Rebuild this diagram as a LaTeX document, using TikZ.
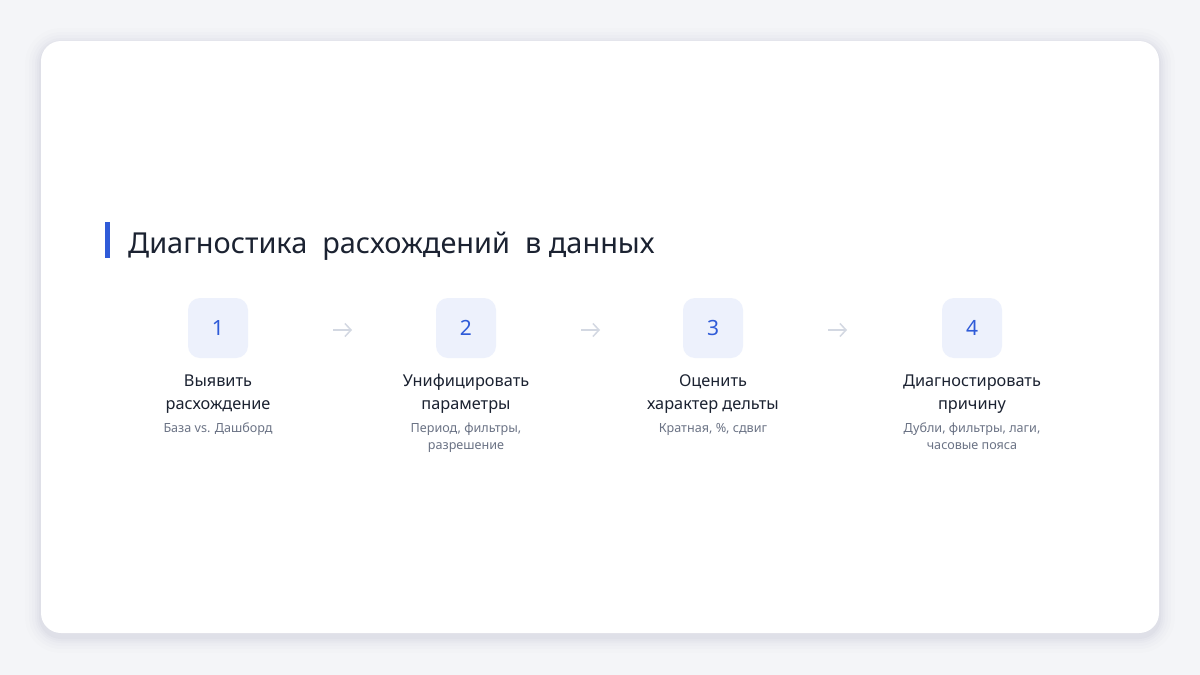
\documentclass[tikz,border=0pt]{standalone}
\usepackage{fontspec}
\setmainfont{Noto Sans}
\usetikzlibrary{arrows.meta}
\definecolor{pagebg}{HTML}{F4F5F8}
\definecolor{accent}{HTML}{2F5BD8}
\definecolor{boxfill}{HTML}{EDF1FC}
\definecolor{titlecol}{HTML}{1B2231}
\definecolor{subcol}{HTML}{6B7385}
\definecolor{arrowcol}{HTML}{D3D8E2}
\tikzset{
  stepbox/.style={fill=boxfill, rounded corners=12pt, minimum width=60pt, minimum height=60pt, inner sep=0pt, text=accent, font=\fontsize{21}{21}\selectfont},
  steplabel/.style={align=center, inner sep=0pt, text=titlecol, font=\fontsize{16.3}{22.5}\selectfont, anchor=base},
  stepsub/.style={align=center, inner sep=0pt, text=subcol, font=\fontsize{12.6}{17}\selectfont, anchor=base},
  flow/.style={draw=arrowcol, line width=1.5pt, -{Straight Barb[length=6pt,width=13pt,line width=1.5pt]}}
}
\begin{document}
\begin{tikzpicture}[x=1pt,y=-1pt]
\useasboundingbox (0,0) rectangle (1200,675);
\fill[pagebg] (0,0) rectangle (1200,675);
% shadow
\foreach \i/\o in {16/0.008,12/0.010,9/0.012,6/0.014,4/0.016,2/0.018}{
  \fill[black!70!blue, opacity=\o, rounded corners=20pt+\i pt] (41-\i,44-\i) rectangle (1159+\i,637+\i);
}
\fill[white, rounded corners=20pt] (41,41) rectangle (1159,633);
% title
\fill[accent] (105,222) rectangle (110,258);
\node[anchor=base west, inner sep=0pt, text=titlecol, font=\fontsize{28.9}{30}\selectfont] (title) at (128,253) {Диагностика\ \ расхождений\ \ в данных};
% steps
\node[stepbox] (b1) at (218,328) {1};
\node[stepbox] (b2) at (466,328) {2};
\node[stepbox] (b3) at (713,328) {3};
\node[stepbox] (b4) at (972,328) {4};
\node[steplabel] (l1) at (218,409) {Выявить\\расхождение};
\node[steplabel] (l2) at (466,409) {Унифицировать\\параметры};
\node[steplabel] (l3) at (713,409) {Оценить\\характер\ дельты};
\node[steplabel] (l4) at (972,409) {Диагностировать\\причину};
\node[stepsub] (s1) at (218,432) {База vs. Дашборд};
\node[stepsub] (s2) at (466,449) {Период, фильтры,\\разрешение};
\node[stepsub] (s3) at (713,432) {Кратная, \%, сдвиг};
\node[stepsub] (s4) at (972,449) {Дубли, фильтры, лаги,\\часовые пояса};
% arrows
\coordinate (a1s) at (333,330); \coordinate (a1e) at (352,330);
\coordinate (a2s) at (581,330); \coordinate (a2e) at (600,330);
\coordinate (a3s) at (828,330); \coordinate (a3e) at (847,330);
\draw[flow] (a1s) -- (a1e);
\draw[flow] (a2s) -- (a2e);
\draw[flow] (a3s) -- (a3e);
\end{tikzpicture}
\end{document}
